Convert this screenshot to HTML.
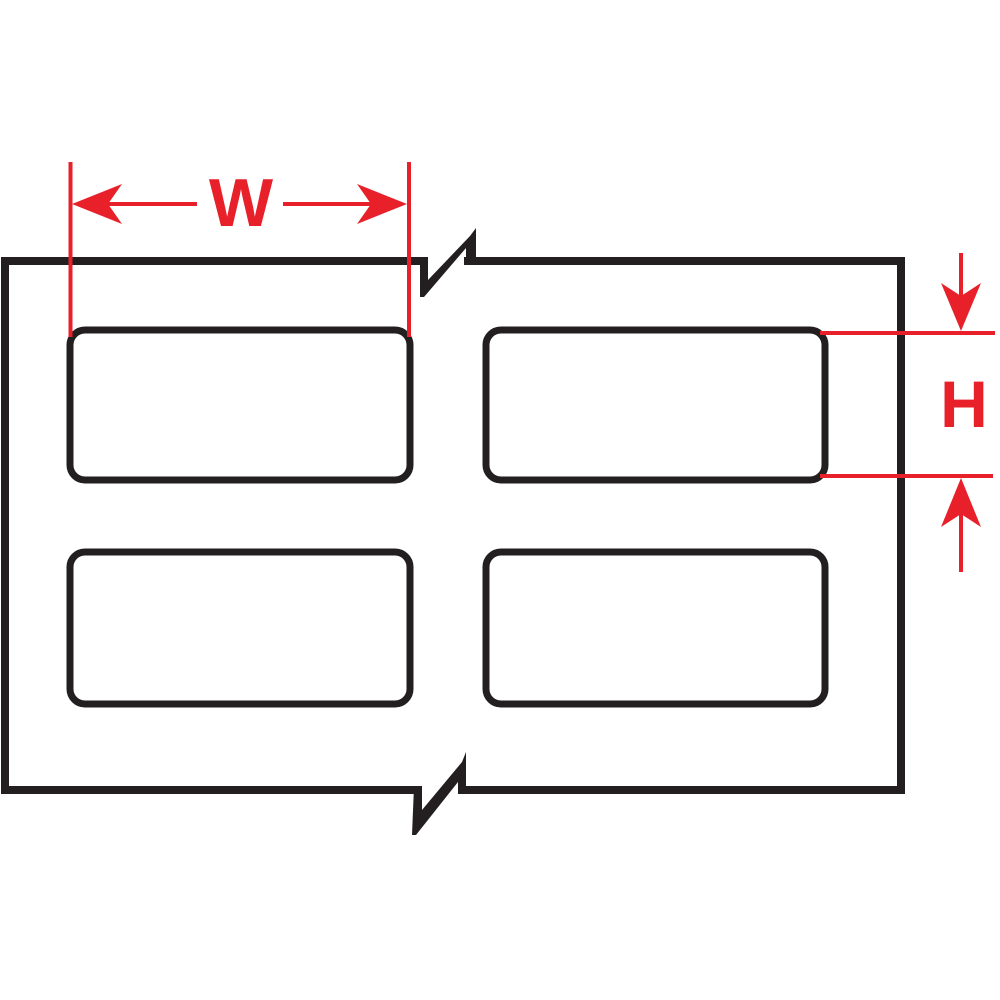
<!DOCTYPE html>
<html><head><style>
html,body{margin:0;padding:0;background:#fff;}
svg{display:block}
</style></head><body>
<svg width="1000" height="1000" viewBox="0 0 1000 1000" xmlns="http://www.w3.org/2000/svg">
<g fill="none" stroke="#231f20" stroke-width="8" stroke-linejoin="miter">
  <polyline points="424,261 5,261 5,790 416,790"/>
  <polyline points="464,261 901,261 901,790 458,790"/>
</g>
<g fill="#231f20">
  <polygon points="420,257 428,257 428,280 470,236 476,228 476,265 466,265 466,248 424,297 420,297"/>
  <polygon points="414,786 422,786 422,810 462,762 466,752 466,794 458,794 458,782 416,835 412,835"/>
</g>
<g fill="none" stroke="#231f20" stroke-width="7">
  <rect x="70" y="330" width="340" height="150" rx="15"/>
  <rect x="486" y="330" width="339" height="150" rx="15"/>
  <rect x="70" y="552" width="340" height="152" rx="15"/>
  <rect x="486" y="552" width="339" height="152" rx="15"/>
</g>
<g stroke="#e8202a" stroke-width="4" fill="none">
  <line x1="70.5" y1="162" x2="70.5" y2="337"/>
  <line x1="409" y1="162" x2="409" y2="337"/>
  <line x1="100" y1="204" x2="197" y2="204"/>
  <line x1="283" y1="204" x2="380" y2="204"/>
  <line x1="820" y1="333" x2="995" y2="333"/>
  <line x1="820" y1="476" x2="993" y2="476"/>
  <line x1="961" y1="253" x2="961" y2="300"/>
  <line x1="961" y1="510" x2="961" y2="572"/>
</g>
<g fill="#e8202a">
  <polygon points="72,204 122,184 108,204 122,224"/>
  <polygon points="407,204 357,184 371,204 357,224"/>
  <polygon points="961,331 941,283 961,296 981,283"/>
  <polygon points="961,478 941,527 961,514 981,527"/>
</g>
<text x="241" y="226" text-anchor="middle" font-family="Liberation Sans, sans-serif" font-weight="bold" font-size="68" fill="#e8202a">W</text>
<text x="964" y="427" text-anchor="middle" font-family="Liberation Sans, sans-serif" font-weight="bold" font-size="66" fill="#e8202a">H</text>
</svg>
</body></html>
